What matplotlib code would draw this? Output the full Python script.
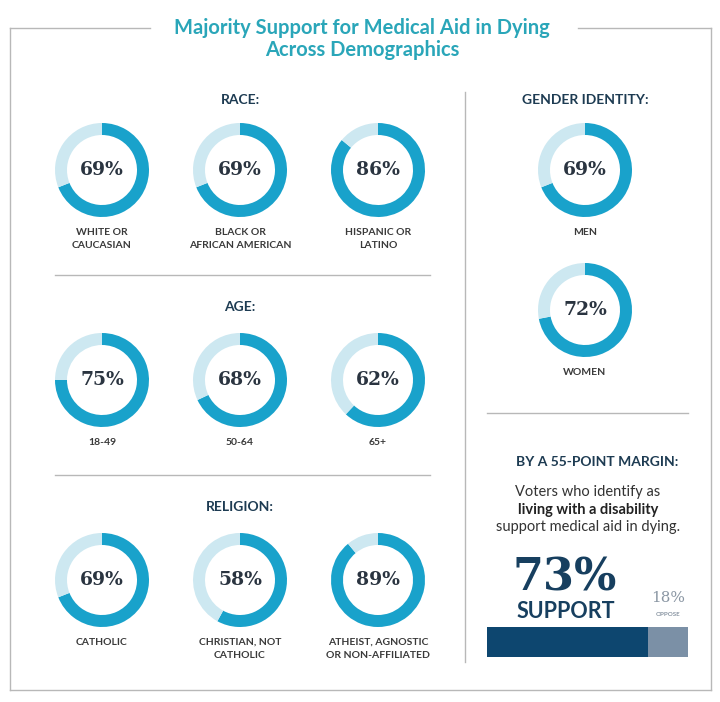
import matplotlib.pyplot as plt

# Data
race_labels = ["WHITE OR\nCAUCASIAN", "BLACK OR\nAFRICAN AMERICAN", "HISPANIC OR\nLATINO"]
race_values = [69, 69, 86]
age_labels = ["18-49", "50-64", "65+"]
age_values = [75, 68, 62]
religion_labels = ["CATHOLIC", "CHRISTIAN, NOT\nCATHOLIC", "ATHEIST, AGNOSTIC\nOR NON-AFFILIATED"]
religion_values = [69, 58, 89]
gender_labels = ["MEN", "WOMEN"]
gender_values = [69, 72]
disability_support = 73
disability_oppose = 18

DARK = "#19a2cb"
LIGHT = "#cde8f1"
NAVY = "#1d3b52"
NUM = "#2a3440"
GREY = "#b8b8b8"
SANS = "Lato"
SERIF = "DejaVu Serif"

W, H = 720, 702
fig = plt.figure(figsize=(7.2, 7.02), dpi=100)
ax = fig.add_axes([0, 0, 1, 1])


def Y(p):
    return H - p


def donut(cx, cy, value, label, r=47, w=12):
    ax.pie([value, 100 - value], colors=[DARK, LIGHT], startangle=90, counterclock=False,
           center=(cx, Y(cy)), radius=r, wedgeprops=dict(width=w, linewidth=0))
    ax.text(cx, Y(cy), f"{value}%", ha="center", va="center", fontsize=13.5,
            family=SERIF, weight="bold", color=NUM)
    ax.text(cx, Y(cy + 58), label, ha="center", va="top", fontsize=7.5,
            family=SANS, weight="bold", color="#3a3a3a", linespacing=1.5)


cols = [102, 240, 378]
for x, v, l in zip(cols, race_values, race_labels):
    donut(x, 170, v, l)
for x, v, l in zip(cols, age_values, age_labels):
    donut(x, 380, v, l)
for x, v, l in zip(cols, religion_values, religion_labels):
    donut(x, 580, v, l)
for y, v, l in zip([170, 310], gender_values, gender_labels):
    donut(585, y, v, l)

ax.set_xlim(0, W)
ax.set_ylim(0, H)
ax.set_aspect("equal")
ax.axis("off")

# frame
ax.plot([10, 150], [Y(28), Y(28)], color=GREY, lw=1)
ax.plot([578, 711], [Y(28), Y(28)], color=GREY, lw=1)
ax.plot([10, 10], [Y(28), Y(690)], color=GREY, lw=1)
ax.plot([711, 711], [Y(28), Y(690)], color=GREY, lw=1)
ax.plot([10, 711], [Y(690), Y(690)], color=GREY, lw=1)
ax.plot([465, 465], [Y(92), Y(662)], color=GREY, lw=1)
ax.plot([55, 430], [Y(275), Y(275)], color=GREY, lw=1)
ax.plot([55, 430], [Y(475), Y(475)], color=GREY, lw=1)
ax.plot([487, 688], [Y(413), Y(413)], color=GREY, lw=1)

ax.text(362, Y(39), "Majority Support for Medical Aid in Dying\nAcross Demographics",
        ha="center", va="center", fontsize=14.5, family=SANS, weight="bold",
        color="#2aa6b9", linespacing=1.15)

for x, y, t in [(240, 100, "RACE:"), (240, 307, "AGE:"), (240, 507, "RELIGION:"),
                (585, 100, "GENDER IDENTITY:")]:
    ax.text(x, Y(y), t, ha="center", va="center", fontsize=10, family=SANS,
            weight="bold", color=NAVY)

ax.text(597, Y(462), "BY A 55-POINT MARGIN:", ha="center", va="center", fontsize=10,
        family=SANS, weight="bold", color=NAVY)
ax.text(588, Y(492), "Voters who identify as", ha="center", va="center", fontsize=10.5,
        family=SANS, color="#333333")
ax.text(588, Y(510), "living with a disability", ha="center", va="center", fontsize=10.5,
        family=SANS, weight="bold", color="#222222")
ax.text(588, Y(527), "support medical aid in dying.", ha="center", va="center",
        fontsize=10.5, family=SANS, color="#333333")
ax.text(565, Y(578), f"{disability_support}%", ha="center", va="center", fontsize=32,
        family=SERIF, weight="bold", color="#173f5f")
ax.text(566, Y(612), "SUPPORT", ha="center", va="center", fontsize=15.5, family=SANS,
        weight="bold", color="#173f5f")
ax.text(668, Y(598), f"{disability_oppose}%", ha="center", va="center", fontsize=11,
        family=SERIF, color="#8a96a3")
ax.text(668, Y(615), "OPPOSE", ha="center", va="center", fontsize=4.5, family=SANS,
        weight="bold", color="#8a96a3")

# stacked bar
bx = fig.add_axes([487 / W, (H - 657) / H, 201 / W, 30 / H])
bx.barh([0], [disability_support], color="#0d466f", height=1)
bx.barh([0], [disability_oppose], left=[disability_support], color="#7b90a6", height=1)
bx.set_xlim(0, disability_support + disability_oppose)
bx.set_ylim(-0.5, 0.5)
bx.axis("off")

fig.savefig("out.png", dpi=100)
